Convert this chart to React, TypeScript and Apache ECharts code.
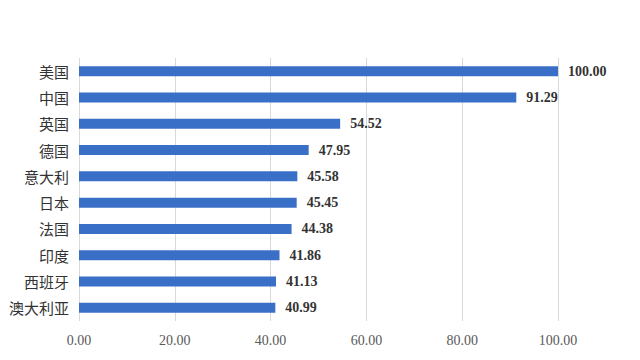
import React, { useEffect, useRef } from "react";
import * as echarts from "echarts";

const categories = ["美国", "中国", "英国", "德国", "意大利", "日本", "法国", "印度", "西班牙", "澳大利亚"];
const values = [100.0, 91.29, 54.52, 47.95, 45.58, 45.45, 44.38, 41.86, 41.13, 40.99];

export default function App() {
  const ref = useRef<HTMLDivElement>(null);
  useEffect(() => {
    const chart = echarts.init(ref.current!, undefined, { renderer: "svg" });
    chart.setOption({
      animation: false,
      backgroundColor: "#ffffff",
      grid: { left: 79, right: 82, top: 58, bottom: 39, containLabel: false },
      xAxis: {
        type: "value",
        min: 0,
        max: 100,
        interval: 20,
        axisLine: { show: false },
        axisTick: { show: false },
        splitLine: { show: true, lineStyle: { color: "#d9d9d9", width: 1 } },
        axisLabel: {
          formatter: (v: number) => v.toFixed(2),
          color: "#595959",
          fontFamily: "Liberation Serif",
          fontSize: 14,
          margin: 12,
        },
      },
      yAxis: {
        type: "category",
        data: categories,
        inverse: true,
        axisLine: { show: false },
        axisTick: { show: false },
        axisLabel: {
          color: "#333333",
          fontFamily: "Noto Sans CJK SC",
          fontSize: 15,
          margin: 10,
        },
      },
      series: [
        {
          type: "bar",
          data: values,
          barWidth: 10,
          itemStyle: { color: "#3a6fc8" },
          label: {
            show: true,
            position: "right",
            distance: 10,
            formatter: (p: any) => Number(p.value).toFixed(2),
            color: "#333333",
            fontFamily: "Liberation Serif",
            fontWeight: "bold",
            fontSize: 14,
          },
        },
      ],
    });
    return () => chart.dispose();
  }, []);
  return <div ref={ref} style={{ width: 640, height: 360, position: "absolute", left: 0, top: 0 }} />;
}
